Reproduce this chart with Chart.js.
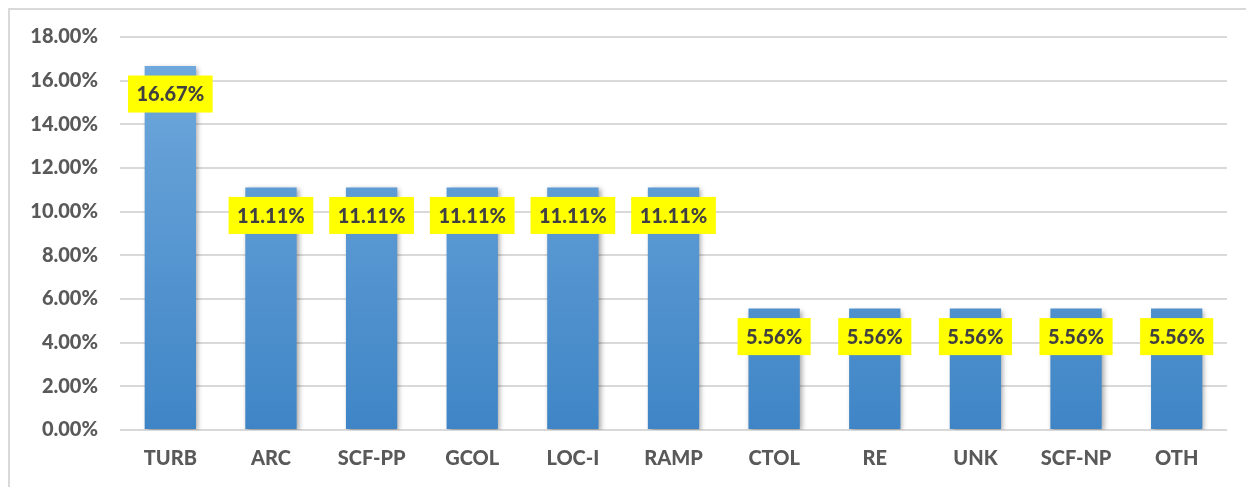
<!DOCTYPE html>
<html>
<head>
<meta charset="utf-8">
<script src="https://cdn.jsdelivr.net/npm/chart.js@4"></script>
<style>
  html, body { margin: 0; padding: 0; background: #fff; }
  #wrap { position: absolute; left: 0; top: 0; width: 1246px; height: 487px; }
  #frame { position: absolute; left: 8px; top: 8px; right: 0; bottom: 0; border-left: 2px solid #d9d9d9; border-top: 2px solid #d9d9d9; }
  canvas { position: absolute; left: 0; top: 0; }
</style>
</head>
<body>
<div id="wrap">
  <div id="frame"></div>
  <canvas id="occChart" width="1246" height="487"></canvas>
</div>
<script>
// Categorías y porcentajes
const categorias = ['TURB', 'ARC', 'SCF-PP', 'GCOL', 'LOC-I', 'RAMP', 'CTOL', 'RE', 'UNK', 'SCF-NP', 'OTH'];
const porcentajes = [16.67, 11.11, 11.11, 11.11, 11.11, 11.11, 5.56, 5.56, 5.56, 5.56, 5.56];
const ticksY = [0, 2, 4, 6, 8, 10, 12, 14, 16, 18];

const FONT = 'Lato, "Open Sans", sans-serif';

// Sombra suave detrás de las barras
const sombraBarras = {
  id: 'sombraBarras',
  beforeDatasetsDraw(chart) {
    const c = chart.ctx;
    c.save();
    c.shadowColor = 'rgba(0, 0, 0, 0.35)';
    c.shadowBlur = 5;
    c.shadowOffsetX = 2;
    c.shadowOffsetY = 2;
  },
  afterDatasetsDraw(chart) {
    chart.ctx.restore();
  }
};

// Etiquetas amarillas dentro del extremo de cada barra
const etiquetas = {
  id: 'etiquetas',
  afterDatasetsDraw(chart) {
    const c = chart.ctx;
    const meta = chart.getDatasetMeta(0);
    c.save();
    c.font = '900 20px ' + FONT;
    c.textAlign = 'center';
    c.textBaseline = 'middle';
    meta.data.forEach((bar, i) => {
      const txt = porcentajes[i].toFixed(2) + '%';
      const w = c.measureText(txt).width + 17;
      const h = 37;
      const cy = bar.y + 28;
      c.fillStyle = '#ffff00';
      c.fillRect(bar.x - w / 2, cy - h / 2, w, h);
      c.fillStyle = '#404040';
      c.fillText(txt, bar.x, cy + 1);
    });
    c.restore();
  }
};

const ctx = document.getElementById('occChart');
new Chart(ctx, {
  type: 'bar',
  data: {
    labels: categorias,
    datasets: [{
      data: porcentajes,
      backgroundColor: function(context) {
        const area = context.chart.chartArea;
        if (!area) return '#5b9bd5';
        const g = context.chart.ctx.createLinearGradient(0, area.top, 0, area.bottom);
        g.addColorStop(0, '#72aadd');
        g.addColorStop(1, '#3f85c6');
        return g;
      },
      borderWidth: 0,
      categoryPercentage: 1,
      barPercentage: 0.51
    }]
  },
  options: {
    responsive: false,
    animation: false,
    layout: { padding: { top: 37, right: 19, bottom: 0, left: 0 } },
    plugins: {
      legend: { display: false },
      title: { display: false },
      tooltip: { enabled: false }
    },
    scales: {
      x: {
        grid: { display: false, drawTicks: false },
        border: { display: false },
        ticks: {
          color: '#595959',
          font: { family: FONT, size: 20, weight: '900' },
          padding: 17,
          maxRotation: 0
        },
        afterFit(scale) { scale.height = 57; }
      },
      y: {
        min: 0,
        max: 18,
        afterBuildTicks(scale) {
          scale.ticks = ticksY.map(v => ({ value: v }));
        },
        grid: { color: '#d9d9d9', lineWidth: 2, drawTicks: false },
        border: { display: false },
        ticks: {
          color: '#595959',
          font: { family: FONT, size: 20, weight: '900' },
          padding: 22,
          callback: v => v.toFixed(2) + '%'
        },
        afterFit(scale) { scale.width = 120; }
      }
    }
  },
  plugins: [sombraBarras, etiquetas]
});
</script>
</body>
</html>
